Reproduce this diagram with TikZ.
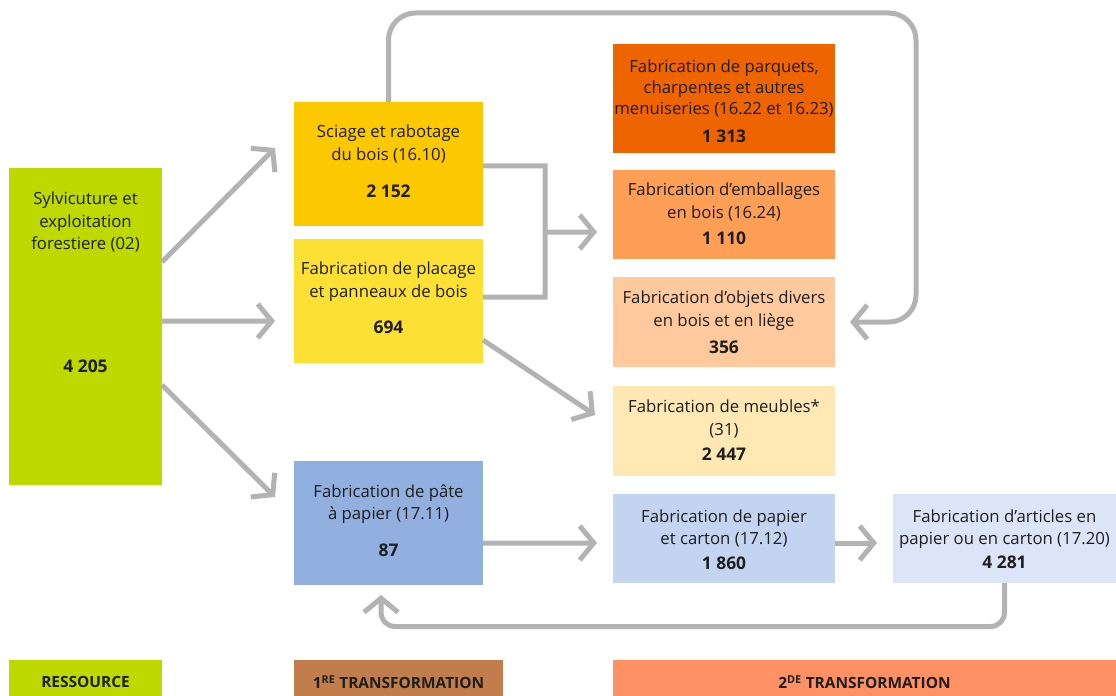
\documentclass[tikz,border=0pt]{standalone}
\usepackage{fontspec}
\setmainfont{Open Sans}
\usetikzlibrary{arrows.meta,calc}
\definecolor{ink}{HTML}{1E1E1E}
\definecolor{cgray}{HTML}{B3B3B3}
\definecolor{cres}{HTML}{BDD900}
\definecolor{csci}{HTML}{FCC800}
\definecolor{cpla}{HTML}{FDE034}
\definecolor{cpat}{HTML}{91B0DF}
\definecolor{cpar}{HTML}{EE6400}
\definecolor{cemb}{HTML}{FF9E55}
\definecolor{cobj}{HTML}{FFC99E}
\definecolor{cmeu}{HTML}{FFE8B4}
\definecolor{cpap}{HTML}{C3D4F0}
\definecolor{cart}{HTML}{DCE5F7}
\definecolor{cone}{HTML}{C17E4C}
\definecolor{ctwo}{HTML}{FF9164}
\begin{document}
\begin{tikzpicture}[x=1bp,y=-1bp,
  box/.style={inner sep=0pt,outer sep=0pt,draw=none},
  txt/.style={align=center,inner sep=0pt,text=ink,font=\fontsize{16.8}{22.5}\selectfont},
  txtb/.style={align=center,inner sep=0pt,text=ink,font=\fontsize{16.8}{21}\selectfont},
  num/.style={inner sep=0pt,text=ink,font=\fontsize{17.5}{18}\selectfont\bfseries},
  leg/.style={inner sep=0pt,text=ink,font=\fontsize{15.5}{16}\selectfont\bfseries},
  line/.style={draw=cgray,line width=5bp},
  arr/.style={line,-{Straight Barb[length=14bp,width=34bp]}}]
\fill[white] (0,0) rectangle (1116,696);
\useasboundingbox (0,0) rectangle (1116,696);
% boxes
\node[box,fill=cres,minimum width=153bp,minimum height=317bp] (sylv) at (85.5,326.5) {};
\node[box,fill=csci,minimum width=189bp,minimum height=124bp] (sciage) at (388.5,164) {};
\node[box,fill=cpla,minimum width=189bp,minimum height=124bp] (placage) at (388.5,301) {};
\node[box,fill=cpat,minimum width=189bp,minimum height=124bp] (pate) at (388.5,523) {};
\node[box,fill=cpar,minimum width=222bp,minimum height=109bp] (parquets) at (724,98.5) {};
\node[box,fill=cemb,minimum width=222bp,minimum height=89bp] (emball) at (724,214.5) {};
\node[box,fill=cobj,minimum width=222bp,minimum height=90bp] (objets) at (724,322) {};
\node[box,fill=cmeu,minimum width=222bp,minimum height=90bp] (meubles) at (724,431) {};
\node[box,fill=cpap,minimum width=222bp,minimum height=89bp] (papier) at (724,538.5) {};
\node[box,fill=cart,minimum width=223bp,minimum height=89bp] (articles) at (1004.5,538.5) {};
% legend
\node[box,fill=cres,minimum width=153bp,minimum height=36bp] (lres) at (85.5,678) {};
\node[box,fill=cone,minimum width=209bp,minimum height=36bp] (lone) at (398.5,678) {};
\node[box,fill=ctwo,minimum width=503bp,minimum height=36bp] (ltwo) at (864.5,678) {};
\node[leg] (lresT) at (85.5,682) {RESSOURCE};
\node[leg] (loneT) at (398.5,682) {1\textsuperscript{RE} TRANSFORMATION};
\node[leg] (ltwoT) at (864.5,682) {2\textsuperscript{DE} TRANSFORMATION};
% texts
\node[txt] (sylvT) at (85.5,222) {Sylvicuture et\\exploitation\\forestiere (02)};
\node[num] (sylvN) at (85.5,366) {4 205};
\node[txt] (sciageT) at (388.5,144) {Sciage et rabotage\\du bois (16.10)};
\node[num] (sciageN) at (388.5,191) {2 152};
\node[txt] (placageT) at (388.5,281.5) {Fabrication de placage\\et panneaux de bois};
\node[num] (placageN) at (388.5,327) {694};
\node[txt] (pateT) at (388.5,504) {Fabrication de pâte\\à papier (17.11)};
\node[num] (pateN) at (388.5,550) {87};
\node[txtb] (parquetsT) at (724,88.5) {Fabrication de parquets,\\charpentes et autres\\menuiseries (16.22 et 16.23)};
\node[num] (parquetsN) at (724,136) {1 313};
\node[txt] (emballT) at (724,202) {Fabrication d’emballages\\en bois (16.24)};
\node[num] (emballN) at (724,238) {1 110};
\node[txt] (objetsT) at (724,310.5) {Fabrication d’objets divers\\en bois et en liège};
\node[num] (objetsN) at (724,347) {356};
\node[txt] (meublesT) at (724,419) {Fabrication de meubles*\\(31)};
\node[num] (meublesN) at (724,454) {2 447};
\node[txt] (papierT) at (724,528.5) {Fabrication de papier\\et carton (17.12)};
\node[num] (papierN) at (724,563) {1 860};
\node[txt] (articlesT) at (1004.5,529) {Fabrication d’articles en\\papier ou en carton (17.20)};
\node[num] (articlesN) at (1004.5,562) {4 281};
% connectors
\draw[arr] ([yshift=64.5bp]sylv.east) -- ([xshift=-19bp,yshift=16bp]sciage.west);
\draw[arr] ([yshift=5.5bp]sylv.east) -- ([xshift=-19bp,yshift=-20bp]placage.west);
\draw[arr] ([yshift=-58.5bp]sylv.east) -- ([xshift=-19bp,yshift=26bp]pate.west);
\coordinate (j1) at (545,166);
\coordinate (j2) at (545,297);
\coordinate (jm) at (545,232);
\draw[line] ([yshift=-2bp]sciage.east) -- (j1) -- (j2) -- ([yshift=4bp]placage.east);
\draw[arr] (jm) -- ([xshift=-16bp,yshift=-17.5bp]emball.west);
\draw[arr] ([yshift=-39bp]placage.east) -- ([xshift=-18bp,yshift=16bp]meubles.west);
\draw[arr] ([yshift=-20bp]pate.east) -- ([xshift=-16bp,yshift=-4.5bp]papier.west);
\draw[arr] ([yshift=-4.5bp]papier.east) -- ([xshift=-16bp,yshift=-4.5bp]articles.west);
\draw[arr,rounded corners=27bp] (sciage.north) -- ++(0,-89) -| ([xshift=81bp]objets.east) -- ([xshift=15bp]objets.east);
\draw[arr,rounded corners=14bp] (articles.south) -- ++(0,43.5) -| ([xshift=-7.5bp,yshift=-10bp]pate.south);
\end{tikzpicture}
\end{document}
